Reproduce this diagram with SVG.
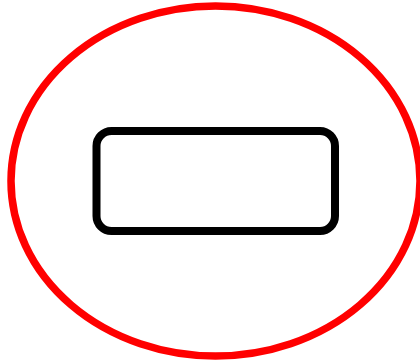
<svg xmlns="http://www.w3.org/2000/svg" width="420" height="362" viewBox="0 0 420 362">
<style>
.outer{fill:none;stroke:#ff0000;stroke-width:7.5}
.node{fill:#ffffff;stroke:#000000;stroke-width:8}
</style>
<rect width="420" height="362" fill="#ffffff"/>
<g id="ellipse"><ellipse class="outer" cx="215.5" cy="181" rx="204.5" ry="175"/></g>
<g id="box"><rect class="node" x="96.5" y="131" width="238.5" height="100" rx="15" ry="15"/></g>
<g id="connectors"></g>
</svg>
